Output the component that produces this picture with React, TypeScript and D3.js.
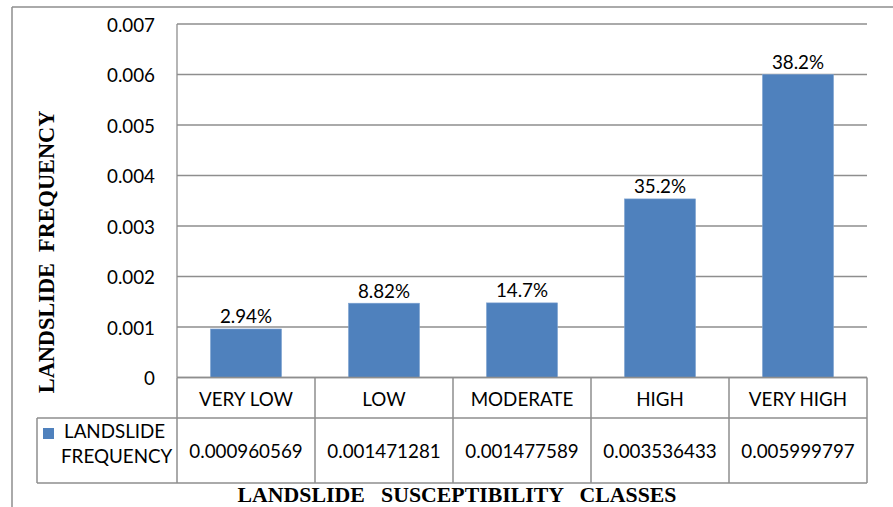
import React from "react";
import * as d3 from "d3";

const categories = ["VERY LOW", "LOW", "MODERATE", "HIGH", "VERY HIGH"];
const frequency = [0.000960569, 0.001471281, 0.001477589, 0.003536433, 0.005999797];
const frequencyText = ["0.000960569", "0.001471281", "0.001477589", "0.003536433", "0.005999797"];
const percentLabels = ["2.94%", "8.82%", "14.7%", "35.2%", "38.2%"];
const yTicks = [0, 0.001, 0.002, 0.003, 0.004, 0.005, 0.006, 0.007];
const seriesName = ["LANDSLIDE", "FREQUENCY"];

const W = 893;
const H = 507;
const plotLeft = 177;
const plotRight = 867;
const plotTop = 24;
const plotBottom = 377.5;
const row1Bottom = 418;
const row2Bottom = 483;
const legendLeft = 37;

const GRID = "#8e8e8e";
const BAR = "#4F81BD";
const FONT = "Lato, 'Open Sans', sans-serif";
const SERIF = "'Liberation Serif', 'Times New Roman', serif";

export default function App() {
  const x = d3.scaleBand<string>().domain(categories).range([plotLeft, plotRight]).padding(0);
  const y = d3.scaleLinear().domain([0, 0.007]).range([plotBottom, plotTop]);
  const bw = x.bandwidth() * 0.515;
  const fmt = d3.format(".3f");

  return (
    <svg
      width={W}
      height={H}
      style={{ position: "absolute", left: 0, top: 0, background: "#fff" }}
    >
      <rect x={0} y={0} width={W} height={H} fill="#fff" />
      {/* outer border */}
      <line x1={12} y1={7} x2={W} y2={7} stroke={GRID} strokeWidth={1.5} />
      <line x1={12} y1={7} x2={12} y2={H} stroke={GRID} strokeWidth={1.5} />

      {/* gridlines */}
      {yTicks.map((t) => (
        <line
          key={"g" + t}
          x1={plotLeft}
          x2={plotRight}
          y1={y(t)}
          y2={y(t)}
          stroke={GRID}
          strokeWidth={1.3}
        />
      ))}
      {/* value axis line */}
      <line x1={plotLeft} x2={plotLeft} y1={plotTop} y2={plotBottom} stroke={GRID} strokeWidth={1.3} />

      {/* tick labels */}
      {yTicks.map((t) => (
        <text
          key={"t" + t}
          x={155}
          y={y(t)}
          textAnchor="end"
          dominantBaseline="central"
          fontFamily={FONT}
          fontSize={18.8}
          fill="#000"
        >
          {t === 0 ? "0" : fmt(t)}
        </text>
      ))}

      {/* bars */}
      {categories.map((c, i) => (
        <rect
          key={"b" + c}
          x={(x(c) as number) + (x.bandwidth() - bw) / 2}
          y={y(frequency[i])}
          width={bw}
          height={plotBottom - y(frequency[i])}
          fill={BAR}
          stroke="#7fa3d1"
          strokeWidth={0.6}
        />
      ))}

      {/* data labels */}
      {categories.map((c, i) => (
        <text
          key={"l" + c}
          x={(x(c) as number) + x.bandwidth() / 2}
          y={y(frequency[i]) - 13}
          textAnchor="middle"
          dominantBaseline="central"
          fontFamily={FONT}
          fontSize={18.8}
          fill="#000"
        >
          {percentLabels[i]}
        </text>
      ))}

      {/* data table */}
      <line x1={plotLeft} x2={plotRight} y1={plotBottom} y2={plotBottom} stroke={GRID} strokeWidth={1.5} />
      <line x1={legendLeft} x2={plotRight} y1={row1Bottom} y2={row1Bottom} stroke={GRID} strokeWidth={1.5} />
      <line x1={legendLeft} x2={plotRight} y1={row2Bottom} y2={row2Bottom} stroke={GRID} strokeWidth={1.5} />
      <line x1={legendLeft} x2={legendLeft} y1={row1Bottom} y2={row2Bottom} stroke={GRID} strokeWidth={1.5} />
      {categories.map((c) => (
        <line
          key={"v" + c}
          x1={x(c) as number}
          x2={x(c) as number}
          y1={plotBottom}
          y2={row2Bottom}
          stroke={GRID}
          strokeWidth={1.5}
        />
      ))}
      <line x1={plotRight} x2={plotRight} y1={plotBottom} y2={row2Bottom} stroke={GRID} strokeWidth={1.5} />

      {categories.map((c) => (
        <text
          key={"c" + c}
          x={(x(c) as number) + x.bandwidth() / 2}
          y={(plotBottom + row1Bottom) / 2 + 1}
          textAnchor="middle"
          dominantBaseline="central"
          fontFamily={FONT}
          fontSize={18.8}
          fill="#000"
        >
          {c}
        </text>
      ))}
      {categories.map((c, i) => (
        <text
          key={"d" + c}
          x={(x(c) as number) + x.bandwidth() / 2}
          y={(row1Bottom + row2Bottom) / 2}
          textAnchor="middle"
          dominantBaseline="central"
          fontFamily={FONT}
          fontSize={18.8}
          fill="#000"
        >
          {frequencyText[i]}
        </text>
      ))}

      {/* legend key */}
      <rect x={43} y={428} width={11} height={11} fill={BAR} />
      <text x={64} y={438} fontFamily={FONT} fontSize={18.8} fill="#000">
        {seriesName[0]}
      </text>
      <text x={61} y={463} fontFamily={FONT} fontSize={18.8} fill="#000">
        {seriesName[1]}
      </text>

      {/* axis titles */}
      <text
        transform={`translate(54, ${252}) rotate(-90)`}
        textAnchor="middle"
        fontFamily={SERIF}
        fontWeight="bold"
        fontSize={22.3}
        fill="#000"
        style={{ whiteSpace: "pre" }}
      >
        {"LANDSLIDE  FREQUENCY"}
      </text>
      <text
        x={457}
        y={502}
        textAnchor="middle"
        fontFamily={SERIF}
        fontWeight="bold"
        fontSize={21.8}
        fill="#000"
        style={{ whiteSpace: "pre" }}
      >
        {"LANDSLIDE   SUSCEPTIBILITY   CLASSES"}
      </text>
    </svg>
  );
}
